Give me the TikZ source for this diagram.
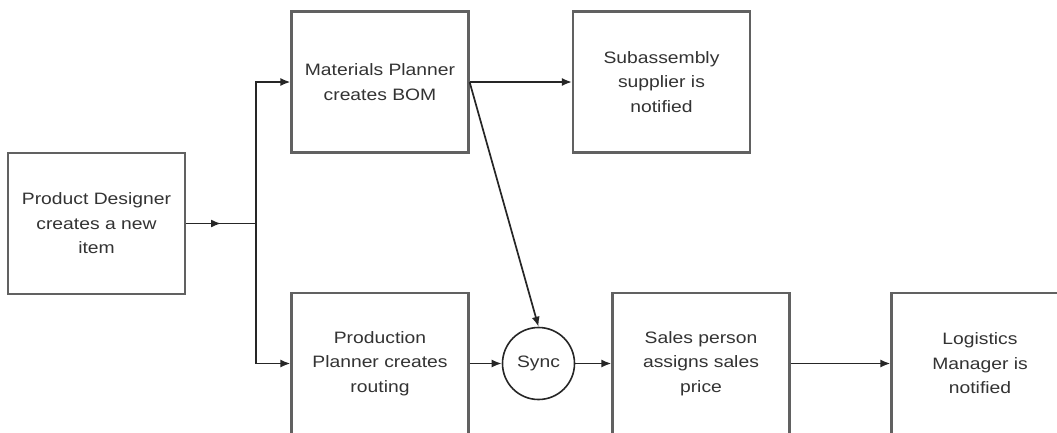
\documentclass[tikz,border=0pt]{standalone}
\usepackage{fontspec}
\setmainfont{Liberation Sans}[FakeStretch=1.17]
\usetikzlibrary{arrows.meta,decorations.markings}
\begin{document}
\begin{tikzpicture}[x=1pt,y=-1pt,
  procbox/.style={draw=black!62, line width=2.2pt, rectangle,
    minimum width=177pt, minimum height=141pt, inner sep=0pt,
    align=center, font=\fontsize{16.5}{24.5}\selectfont, text=black!80},
  syncnode/.style={draw=black!85, line width=1.6pt, circle,
    minimum size=72pt, inner sep=0pt,
    font=\fontsize{16.5}{24.5}\selectfont, text=black!80},
  flow/.style={draw=black!85, line width=1.7pt,
    -{Latex[length=10pt,width=8pt]}},
  plainline/.style={draw=black!85, line width=1.7pt},
  midarrow/.style={postaction={decorate}, decoration={markings,
    mark=at position 0.5 with {\arrow{Latex[length=10pt,width=8pt]}}}}]
  % canvas and cropping window
  \useasboundingbox (0,0) rectangle (1057,432);
  \fill[white] (0,0) rectangle (1057,432);
  \clip (0,0) rectangle (1057,432);

  % process steps
  \node[procbox] (pd) at (96.5,223.5) {Product Designer\\creates a new\\item};
  \node[procbox] (mp) at (380,82) {Materials Planner\\creates BOM};
  \node[procbox] (sa) at (661.5,82) {Subassembly\\supplier is\\notified};
  \node[procbox] (pp) at (380,363.5) {Production\\Planner creates\\routing};
  \node[syncnode] (sync) at (538.5,363.5) {Sync};
  \node[procbox] (sp) at (701,363.5) {Sales person\\assigns sales\\price};
  \node[procbox] (lm) at (980,363.5) {Logistics\\Manager is\\notified};

  % fork point after the designer step
  \coordinate (fork) at (256,223.5);

  % connectors
  \draw[plainline, midarrow] (pd.east) -- (fork);
  \draw[flow] (fork) |- (mp.west);
  \draw[flow] (fork) |- (pp.west);
  \draw[flow] (mp.east) -- (sa.west);
  \draw[flow] (mp.east) -- (sync.north);
  \draw[flow] (pp.east) -- (sync.west);
  \draw[flow] (sync.east) -- (sp.west);
  \draw[flow] (sp.east) -- (lm.west);
\end{tikzpicture}
\end{document}
